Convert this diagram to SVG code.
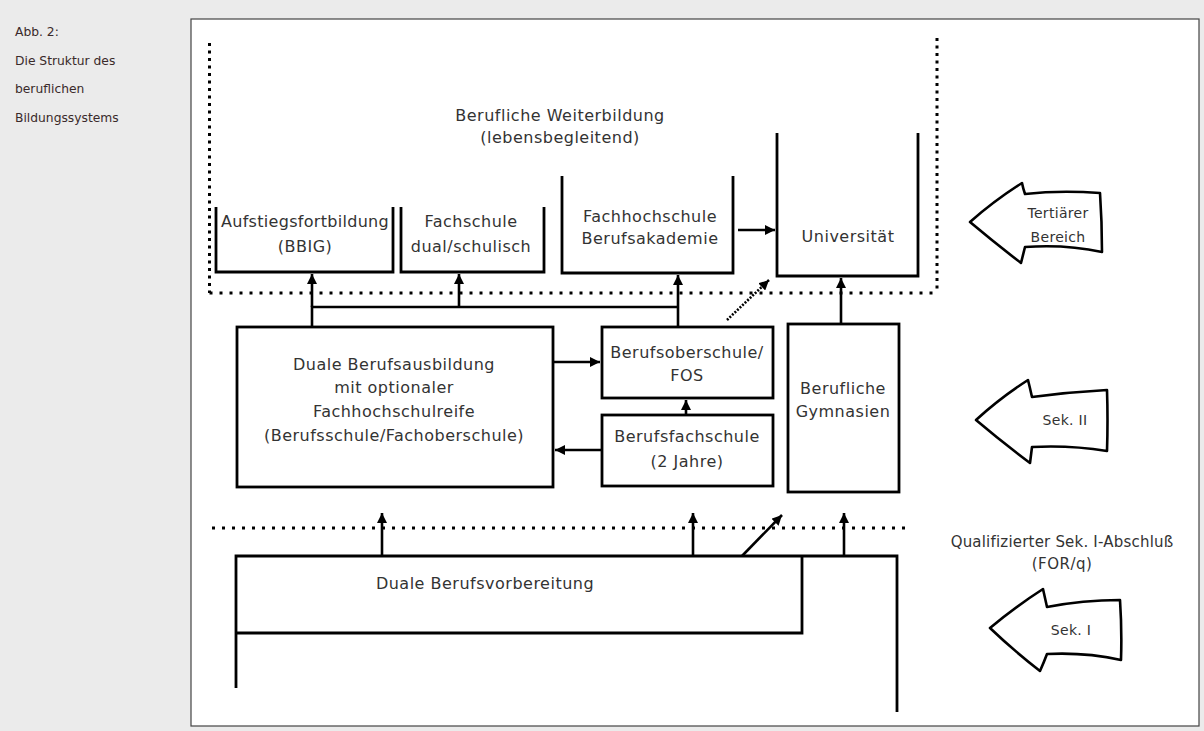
<svg xmlns="http://www.w3.org/2000/svg" width="1204" height="731" viewBox="0 0 1204 731">
<defs>
<marker id="ah" viewBox="0 0 10 10" refX="10" refY="5" markerWidth="10" markerHeight="10" markerUnits="userSpaceOnUse" orient="auto">
<path d="M0,0 L10,5 L0,10 Z" fill="#000"/>
</marker>
<style>
.cap{font-family:"DejaVu Sans",sans-serif;font-size:12.3px;fill:#3a2a2a}
.t{font-family:"DejaVu Sans",sans-serif;font-size:16px;letter-spacing:0.5px;fill:#333;text-anchor:middle}
.ts{font-family:"DejaVu Sans",sans-serif;font-size:14px;letter-spacing:0.3px;fill:#333;text-anchor:middle}
.box{fill:none;stroke:#000;stroke-width:2.8}
.ln{fill:none;stroke:#000;stroke-width:2.6}
.dh{fill:none;stroke:#000;stroke-width:3;stroke-dasharray:3 7}
.dv{fill:none;stroke:#000;stroke-width:3;stroke-dasharray:3 4.5}
.blk{fill:#fff;stroke:#000;stroke-width:2.6;stroke-linejoin:round}
</style>
</defs>
<rect x="0" y="0" width="1204" height="731" fill="#ebebeb"/>
<rect x="191" y="19" width="1008" height="707" fill="#fff" stroke="#444" stroke-width="1.2"/>
<g id="caption">
<text class="cap" x="15" y="36">Abb. 2:</text>
<text class="cap" x="15" y="65">Die Struktur des</text>
<text class="cap" x="15" y="93">beruflichen</text>
<text class="cap" x="15" y="122">Bildungssystems</text>
</g>
<g id="weiterbildung-area">
<path class="dv" d="M209.5,43 V293"/>
<path class="dh" d="M209.5,293 H937"/>
<path class="dv" d="M937,38 V293"/>
<text class="t" x="560" y="121">Berufliche Weiterbildung</text>
<text class="t" x="560" y="143">(lebensbegleitend)</text>
</g>
<g id="aufstieg">
<path class="box" d="M216,207 V272 H393 V207"/>
<text class="t" x="305" y="227" style="letter-spacing:0.3px">Aufstiegsfortbildung</text>
<text class="t" x="305" y="252">(BBIG)</text>
</g>
<g id="fachschule">
<path class="box" d="M401,207 V272 H544 V207"/>
<text class="t" x="471" y="227">Fachschule</text>
<text class="t" x="471" y="252">dual/schulisch</text>
</g>
<g id="fachhochschule">
<path class="box" d="M562,176 V273 H733 V176"/>
<text class="t" x="650" y="222">Fachhochschule</text>
<text class="t" x="650" y="244">Berufsakademie</text>
</g>
<g id="universitaet">
<path class="box" d="M777,133 V276 H918 V133"/>
<text class="t" x="848" y="242">Universität</text>
</g>
<g id="duale-ausbildung">
<rect class="box" x="237" y="327" width="316" height="160"/>
<text class="t" x="394" y="370">Duale Berufsausbildung</text>
<text class="t" x="394" y="393">mit optionaler</text>
<text class="t" x="394" y="417">Fachhochschulreife</text>
<text class="t" x="394" y="441">(Berufsschule/Fachoberschule)</text>
</g>
<g id="berufsoberschule">
<rect class="box" x="602" y="327" width="171" height="71"/>
<text class="t" x="687" y="358">Berufsoberschule/</text>
<text class="t" x="687" y="381">FOS</text>
</g>
<g id="berufsfachschule">
<rect class="box" x="602" y="415" width="171" height="71"/>
<text class="t" x="687" y="442">Berufsfachschule</text>
<text class="t" x="687" y="467">(2 Jahre)</text>
</g>
<g id="gymnasien">
<rect class="box" x="788" y="324" width="111" height="168"/>
<text class="t" x="843" y="394">Berufliche</text>
<text class="t" x="843" y="417">Gymnasien</text>
</g>
<g id="sek1-line">
<path class="dh" d="M212,528 H907"/>
<text class="t" x="1062" y="547" style="font-size:15px;letter-spacing:0.2px">Qualifizierter Sek. I-Abschluß</text>
<text class="t" x="1062" y="569" style="font-size:15px">(FOR/q)</text>
</g>
<g id="berufsvorbereitung">
<path class="box" d="M236,688 V556 H897 V712"/>
<path class="box" d="M802,556 V633 H236"/>
<text class="t" x="485" y="589">Duale Berufsvorbereitung</text>
</g>
<g id="connectors">
<path class="ln" d="M312,327 V307 H678"/>
<path class="ln" d="M312,307 V274" marker-end="url(#ah)"/>
<path class="ln" d="M459,307 V274" marker-end="url(#ah)"/>
<path class="ln" d="M678,327 V275" marker-end="url(#ah)"/>
<path class="ln" d="M841,324 V278" marker-end="url(#ah)"/>
<path class="ln" d="M738,230 H775" marker-end="url(#ah)"/>
<path class="ln" d="M727,320 L769,280" stroke-dasharray="2 1.5" marker-end="url(#ah)"/>
<path class="ln" d="M553,362 H600" marker-end="url(#ah)"/>
<path class="ln" d="M602,450 H555" marker-end="url(#ah)"/>
<path class="ln" d="M686,415 V400" marker-end="url(#ah)"/>
<path class="ln" d="M382,556 V513" marker-end="url(#ah)"/>
<path class="ln" d="M693,556 V513" marker-end="url(#ah)"/>
<path class="ln" d="M742,556 L782,515" marker-end="url(#ah)"/>
<path class="ln" d="M844,556 V513" marker-end="url(#ah)"/>
</g>
<g id="tertiaer">
<path class="blk" d="M970,222 Q995,200 1022,183 Q1023,188 1025,194 Q1060,190 1100,193 Q1102,222 1102,252 Q1065,244 1025,247 Q1023,255 1021,263 Q995,243 970,222 Z"/>
<text class="ts" x="1058" y="218">Tertiärer</text>
<text class="ts" x="1058" y="242">Bereich</text>
</g>
<g id="sek2">
<path class="blk" d="M976,420 Q1000,398 1028,380 Q1030,388 1032,397 Q1070,392 1107,390 Q1108,420 1107,451 Q1070,445 1032,447 Q1031,455 1030,463 Q1002,442 976,420 Z"/>
<text class="ts" x="1065" y="425">Sek. II</text>
</g>
<g id="sek1">
<path class="blk" d="M990,628 Q1015,607 1043,589 Q1045,598 1047,607 Q1083,600 1120,600 Q1122,630 1121,660 Q1085,652 1047,654 Q1044,662 1040,671 Q1013,650 990,628 Z"/>
<text class="ts" x="1071" y="635">Sek. I</text>
</g>
</svg>
